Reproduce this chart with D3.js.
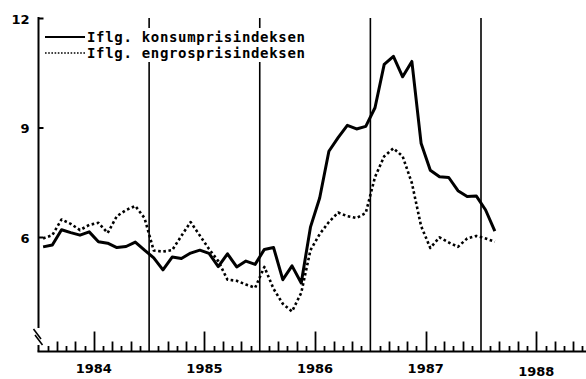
<!DOCTYPE html>
<html>
<head>
<meta charset="utf-8">
<script src="https://cdn.jsdelivr.net/npm/d3@7"></script>
<style>
  html, body { margin: 0; padding: 0; background: #fff; }
  svg { display: block; }
  .num { font-family: "DejaVu Sans", sans-serif; font-weight: bold; font-size: 13px; fill: #000; }
  .leg { font-family: "DejaVu Sans Mono", monospace; font-weight: bold; font-size: 14px; fill: #000; }
</style>
</head>
<body>
<svg id="chart" width="586" height="379"></svg>
<script>
// Monthly price growth (per cent), January 1984 to February 1988
const startYear = 1984;
const konsum = [
  5.73, 5.78, 6.20, 6.12, 6.05, 6.14, 5.87, 5.83, 5.71, 5.74, 5.86, 5.64,
  5.43, 5.10, 5.45, 5.41, 5.56, 5.64, 5.55, 5.19, 5.54, 5.18, 5.34, 5.25,
  5.66, 5.71, 4.83, 5.21, 4.74, 6.27, 7.07, 8.35, 8.72, 9.06, 8.96, 9.03,
  9.54, 10.73, 10.95, 10.39, 10.81, 8.57, 7.83, 7.65, 7.63, 7.27, 7.11, 7.12,
  6.74, 6.16
];
const engros = [
  5.96, 6.05, 6.48, 6.36, 6.19, 6.33, 6.39, 6.11, 6.57, 6.74, 6.85, 6.52,
  5.63, 5.60, 5.64, 6.03, 6.41, 6.04, 5.67, 5.34, 4.83, 4.80, 4.70, 4.61,
  5.18, 4.58, 4.17, 3.96, 4.47, 5.64, 6.08, 6.41, 6.67, 6.57, 6.52, 6.66,
  7.64, 8.21, 8.43, 8.21, 7.48, 6.30, 5.70, 5.99, 5.85, 5.73, 5.96, 6.03,
  5.96, 5.87
];
const yTicks = [6, 9, 12];
const yearLabels = [1984, 1985, 1986, 1987, 1988];
const yearLines = [1985, 1986, 1987, 1988];
const legendLabels = ["Iflg. konsumprisindeksen", "Iflg. engrosprisindeksen"];

const svg = d3.select("#chart");

const x = d3.scaleLinear().domain([1984, 1988]).range([38.5, 481]);
const y = d3.scaleLinear().domain([6, 12]).range([237, 18]);
const baseY = 351.5;
const axisX = x(1984);

const monthT = i => startYear + (i + 0.5) / 12;

// year separator lines
svg.append("g").selectAll("line").data(yearLines).join("line")
  .attr("x1", d => x(d)).attr("x2", d => x(d))
  .attr("y1", y(12)).attr("y2", baseY)
  .attr("stroke", "#000").attr("stroke-width", 1.6);

// monthly tick marks along the time axis: long at mid-year, medium every other month
const monthIdx = d3.range(1, 12 * 5).filter(m => m % 12 !== 0 && x(startYear + m / 12) < 586);
const tickLen = m => {
  const r = m % 12;
  if (r === 6) return 20;
  return r % 2 === 0 ? 10 : 5.5;
};
const tx = m => Math.round(x(startYear + m / 12)) + 0.5;
svg.append("g").selectAll("path").data(monthIdx).join("path")
  .attr("d", m => `M${tx(m)},${baseY}V${baseY - tickLen(m)}`)
  .attr("fill", "none").attr("stroke", "#000").attr("stroke-width", 1.8);
svg.append("line")
  .attr("x1", axisX - 1).attr("x2", 586)
  .attr("y1", baseY).attr("y2", baseY)
  .attr("stroke", "#000").attr("stroke-width", 2);

// year labels
svg.append("g").selectAll("text").data(yearLabels).join("text")
  .attr("class", "num").attr("text-anchor", "middle")
  .attr("x", d => x(d + 0.5))
  .attr("y", d => baseY + (d === 1988 ? 24 : 21))
  .text(d => d);

// value axis
const yAxis = d3.axisLeft(y).tickValues(yTicks).tickSizeInner(-5).tickSizeOuter(0).tickPadding(9)
  .tickFormat(d3.format("d"));
const gy = svg.append("g").attr("transform", `translate(${axisX},0)`).call(yAxis);
gy.select(".domain").remove();
gy.selectAll(".tick line").attr("stroke", "#000").attr("stroke-width", 2);
gy.selectAll("text").attr("class", "num").attr("dy", "0.4em");
svg.append("line").attr("x1", axisX).attr("x2", axisX).attr("y1", y(12) - 1).attr("y2", 328)
  .attr("stroke", "#000").attr("stroke-width", 2);
svg.append("line").attr("x1", axisX).attr("x2", axisX).attr("y1", 345).attr("y2", baseY)
  .attr("stroke", "#000").attr("stroke-width", 2);
// axis break marks
[[33.5, 329, 41, 339], [35, 335, 42.5, 345]].forEach(s =>
  svg.append("line").attr("x1", s[0]).attr("y1", s[1]).attr("x2", s[2]).attr("y2", s[3])
    .attr("stroke", "#000").attr("stroke-width", 1.6));

// series
const line = d3.line().x((d, i) => x(monthT(i))).y(d => y(d));
svg.append("path").datum(engros).attr("d", line)
  .attr("fill", "none").attr("stroke", "#000").attr("stroke-width", 2.6)
  .attr("stroke-dasharray", "2.6 2.6").attr("stroke-linejoin", "round");
svg.append("path").datum(konsum).attr("d", line)
  .attr("fill", "none").attr("stroke", "#000").attr("stroke-width", 3)
  .attr("stroke-linejoin", "round");

// legend
const leg = svg.append("g");
leg.append("rect").attr("x", 43).attr("y", 28).attr("width", 266).attr("height", 34).attr("fill", "#fff");
legendLabels.forEach((t, i) => {
  const cy = 37 + i * 16;
  leg.append("line").attr("x1", 45).attr("x2", 85).attr("y1", cy).attr("y2", cy)
    .attr("stroke", "#000").attr("stroke-width", i === 0 ? 1.8 : 1.6)
    .attr("stroke-dasharray", i === 0 ? null : "1.6 1.6");
  leg.append("text").attr("class", "leg").attr("x", 87).attr("y", cy + 5)
    .attr("textLength", 218).attr("lengthAdjust", "spacing").text(t);
});
</script>
</body>
</html>
